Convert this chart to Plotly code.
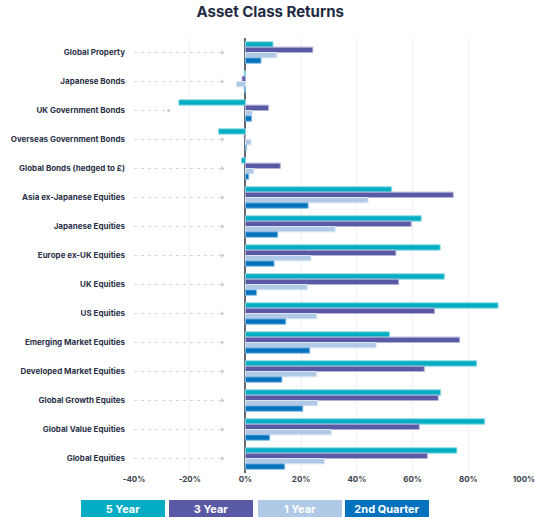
import plotly.graph_objects as go

categories = [
    "Global Property", "Japanese Bonds", "UK Government Bonds",
    "Overseas Government Bonds", "Global Bonds (hedged to £)",
    "Asia ex-Japanese Equities", "Japanese Equities", "Europe ex-UK Equities",
    "UK Equities", "US Equities", "Emerging Market Equities",
    "Developed Market Equities", "Global Growth Equites",
    "Global Value Equities", "Global Equities",
]

five_year = [9.9, -0.4, -23.9, -9.7, -1.4, 52.5, 63.1, 69.9, 71.4, 90.7, 51.7, 83.0, 70.1, 85.9, 75.9]
three_year = [24.2, -1.2, 8.3, 0.0, 12.5, 74.6, 59.5, 54.0, 55.0, 67.9, 76.9, 64.2, 69.2, 62.4, 65.3]
one_year = [11.3, -3.2, 2.4, 2.0, 3.0, 44.0, 32.2, 23.5, 22.2, 25.6, 46.9, 25.6, 25.9, 30.8, 28.4]
second_quarter = [5.6, -0.4, 2.2, 0.4, 1.2, 22.5, 11.6, 10.3, 4.0, 14.5, 23.1, 13.1, 20.6, 8.7, 14.1]

series_names = ["5 Year", "3 Year", "1 Year", "2nd Quarter"]
series_values = [five_year, three_year, one_year, second_quarter]
colors = ["#02ADC3", "#5A59A5", "#AFC9E6", "#0271BE"]
halo = ["#8fdbe5", "#b3b2d8", "#dae6f4", "#86bbe2"]

x_ticks = [-40, -20, 0, 20, 40, 60, 80, 100]
x_tick_labels = ["-40%", "-20%", "0%", "20%", "40%", "60%", "80%", "100%"]

# decorative dashed leader lines (end positions in axis units)
leader_start = -40
leader_end = [-27.6 if c == "UK Government Bonds" else -8.3 for c in categories]

fig = go.Figure()

for name, vals, col, hc in zip(series_names, series_values, colors, halo):
    fig.add_trace(go.Bar(
        y=categories, x=vals, orientation="h", name=name,
        marker=dict(color=col, line=dict(color=hc, width=1)),
        showlegend=False, hoverinfo="x+y",
    ))

for c, e in zip(categories, leader_end):
    fig.add_shape(type="line", xref="x", yref="y", x0=leader_start, x1=e, y0=c, y1=c,
                  line=dict(color="#d3d6db", width=1, dash="3px,4px"), layer="below")

fig.add_trace(go.Scatter(
    x=leader_end, y=categories, mode="markers",
    marker=dict(symbol="triangle-right", size=4, color="#c4c7ce"),
    showlegend=False, hoverinfo="skip",
))

# custom legend boxes
legend_x = [-0.028, 0.1974, 0.4244, 0.6487]
for name, col, lx in zip(series_names, colors, legend_x):
    fig.add_annotation(
        xref="paper", yref="paper", x=lx, y=-0.0805, xanchor="center", yanchor="middle",
        text=f"<b>{name}</b>", showarrow=False, width=82, height=15,
        bgcolor=col, bordercolor=col, borderwidth=1, borderpad=0,
        font=dict(family="Inter", size=11, color="white"),
    )

fig.update_layout(
    width=535, height=517,
    margin=dict(l=134, r=11, t=38, b=44),
    paper_bgcolor="white", plot_bgcolor="white",
    barmode="group", bargap=0.26, bargroupgap=0.0,
    title=dict(text="<b>Asset Class Returns</b>", x=0.505, xanchor="center",
               y=0.978, yanchor="middle",
               font=dict(family="Inter", size=15, color="#1F2A44")),
    font=dict(family="Inter", color="#2B3147"),
    xaxis=dict(range=[-40, 100.001], tickvals=x_ticks, ticktext=x_tick_labels,
               showgrid=True, gridcolor="#f0f1f3", gridwidth=1,
               zeroline=True, zerolinecolor="#666a70", zerolinewidth=1.5,
               tickfont=dict(family="Inter", size=8, color="#3a3f4a", weight=700),
               ticklabeloverflow="allow", automargin=False,
               fixedrange=True, showline=False, ticks=""),
    yaxis=dict(type="category", range=[len(categories) - 0.5, -0.5], showgrid=False,
               tickfont=dict(family="Inter", size=8, color="#2B3147", weight=700),
               ticks="", ticklabelstandoff=8, fixedrange=True, automargin=False),
)

fig.write_html("out.html", config={"displayModeBar": False},
               post_script="document.body.style.margin='0';")
